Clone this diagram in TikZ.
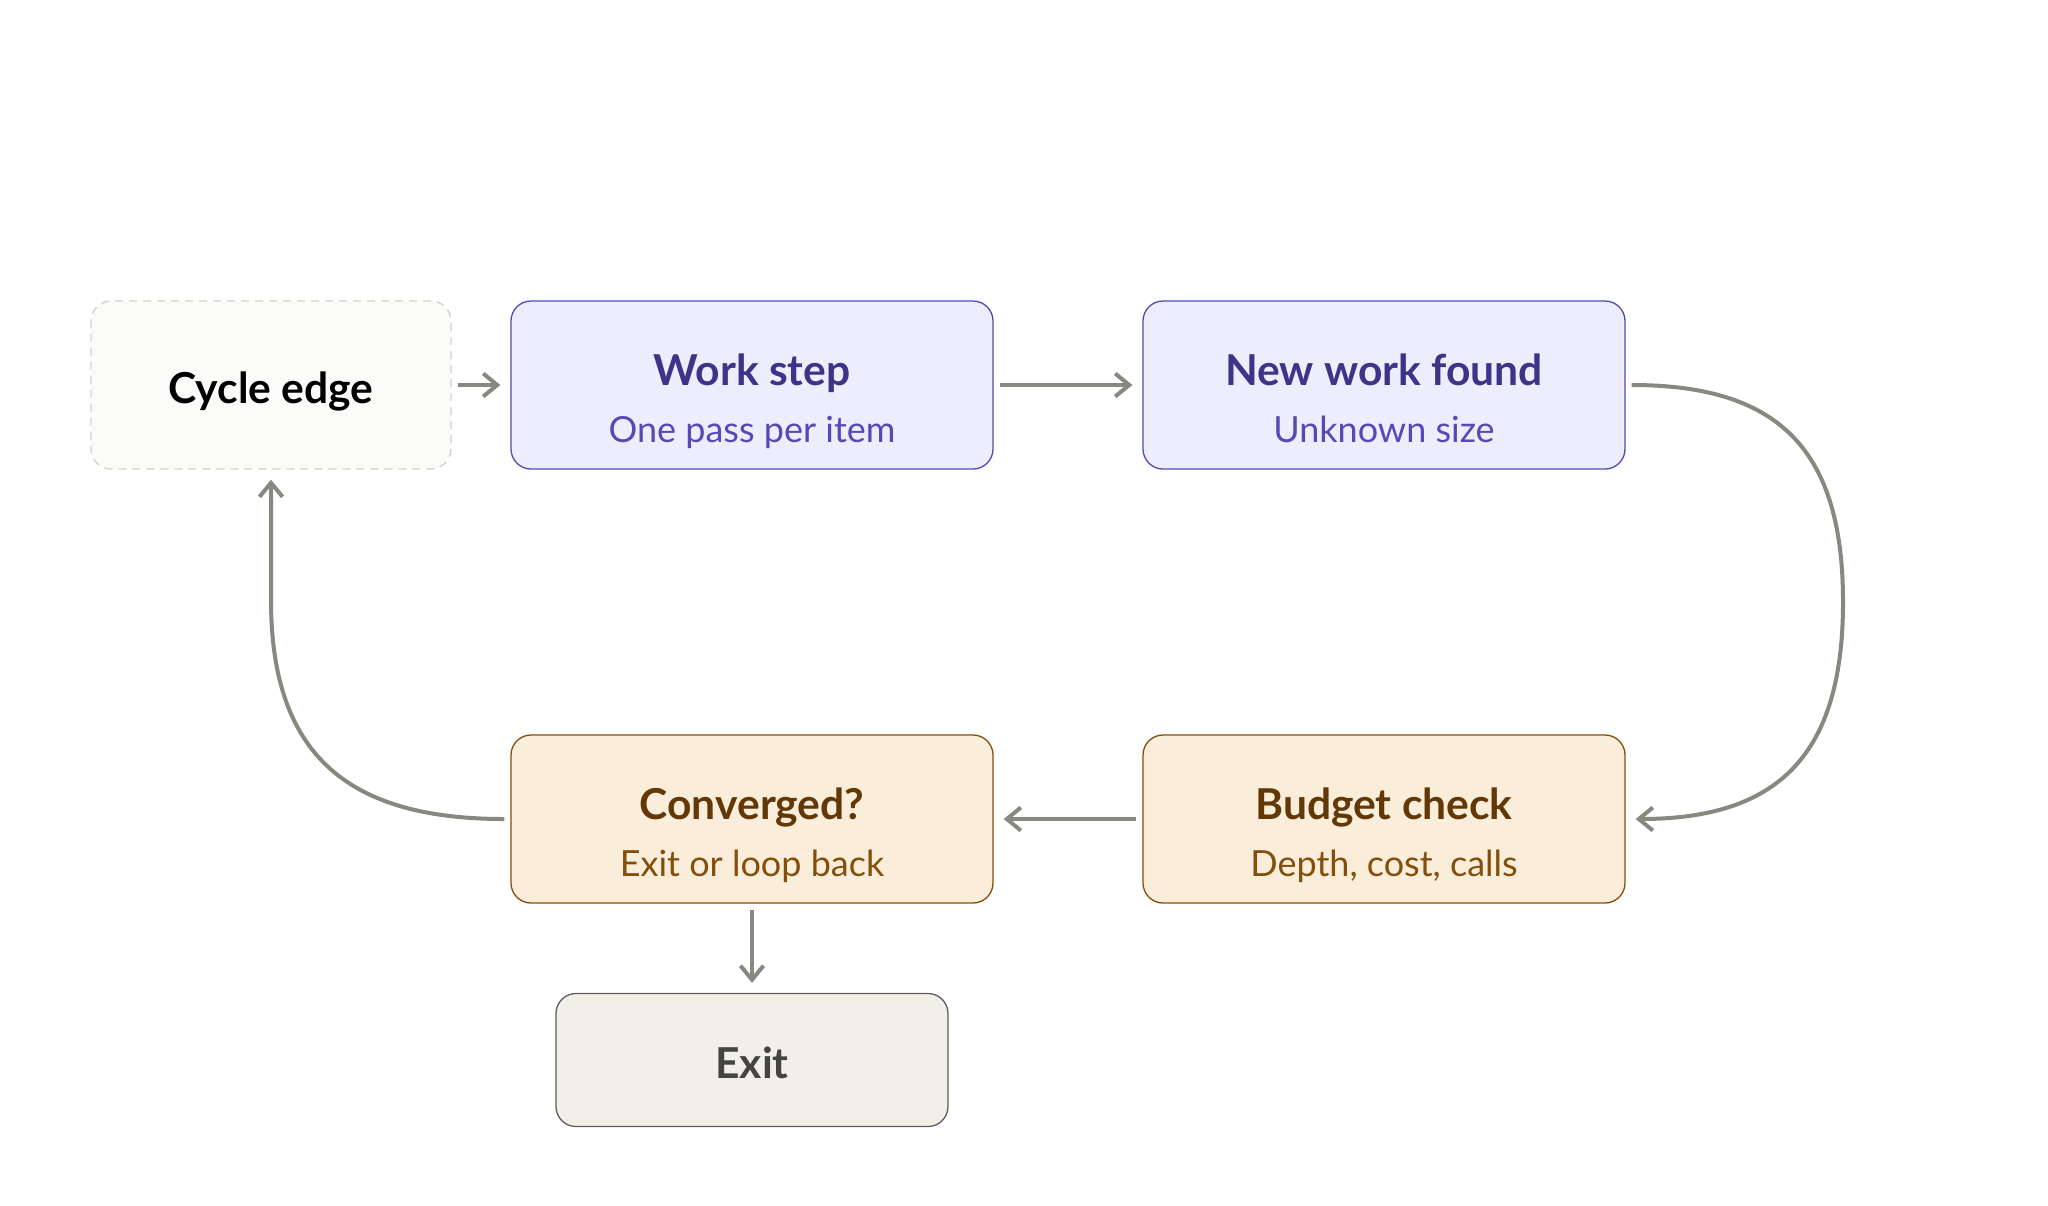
\documentclass[tikz,border=0pt]{standalone}
\usepackage{fontspec}
\setmainfont{Lato}
\usetikzlibrary{arrows.meta}

\definecolor{purpleFill}{HTML}{EEEDFE}
\definecolor{purpleEdge}{HTML}{534AB7}
\definecolor{purpleHead}{HTML}{3C3489}
\definecolor{amberFill}{HTML}{FAEEDA}
\definecolor{amberEdge}{HTML}{854F0B}
\definecolor{amberHead}{HTML}{633806}
\definecolor{grayFill}{HTML}{F1EFE8}
\definecolor{grayEdge}{HTML}{5F5E5A}
\definecolor{grayHead}{HTML}{444441}
\definecolor{cycleFill}{HTML}{FBFBF9}
\definecolor{cycleEdge}{HTML}{D3D1C7}
\definecolor{arrowGray}{HTML}{888780}

\tikzset{
    box/.style={rounded corners=10pt, line width=0.65pt, minimum width=241pt,
        minimum height=84pt, inner sep=0pt},
    purplebox/.style={box, draw=purpleEdge, fill=purpleFill},
    amberbox/.style={box, draw=amberEdge, fill=amberFill},
    exitbox/.style={box, draw=grayEdge, fill=grayFill,
        minimum width=196pt, minimum height=66.5pt},
    cyclebox/.style={box, draw=cycleEdge, fill=cycleFill, dash pattern=on 4pt off 3pt,
        minimum width=180pt},
    headtext/.style={anchor=base, font=\fontsize{21.3}{25}\selectfont\bfseries},
    subtext/.style={anchor=base, font=\fontsize{18}{21}\selectfont},
    flow/.style={draw=arrowGray, line width=2pt,
        -{Straight Barb[length=7pt,width=11.5pt]}, shorten <=3pt, shorten >=5pt},
}

\begin{document}
\begin{tikzpicture}[x=0.5pt, y=0.5pt]
    \useasboundingbox[fill=white] (0,0) rectangle (2048,-1205);

    % Top row
    \node[cyclebox] (cycle) at (271,-385) {};
    \node[headtext] (cycleT) at (271,-403) {Cycle edge};
    \node[purplebox] (work) at (752,-385) {};
    \node[headtext, text=purpleHead] (workT) at (752,-385) {Work step};
    \node[subtext, text=purpleEdge] (workS) at (752,-442) {One pass per item};
    \node[purplebox] (new) at (1384,-385) {};
    \node[headtext, text=purpleHead] (newT) at (1384,-385) {New work found};
    \node[subtext, text=purpleEdge] (newS) at (1384,-442) {Unknown size};

    % Bottom row
    \node[amberbox] (budget) at (1384,-819) {};
    \node[headtext, text=amberHead] (budgetT) at (1384,-819) {Budget check};
    \node[subtext, text=amberEdge] (budgetS) at (1384,-876) {Depth, cost, calls};
    \node[amberbox] (conv) at (752,-819) {};
    \node[headtext, text=amberHead] (convT) at (752,-819) {Converged?};
    \node[subtext, text=amberEdge] (convS) at (752,-876) {Exit or loop back};
    \node[exitbox] (exit) at (752,-1060) {};
    \node[headtext, text=grayHead] (exitT) at (752,-1078) {Exit};

    % Bends of the loop
    \coordinate (rbend) at (1843,-602);
    \coordinate (lbend) at (271,-600);

    \draw[flow] (cycle) -- (work);
    \draw[flow] (work) -- (new);
    \draw[flow] (new.east) to[out=0,in=90,looseness=1.27] (rbend)
        to[out=-90,in=0,looseness=1.27] (budget.east);
    \draw[flow] (budget) -- (conv);
    \draw[flow] (conv.west) to[out=180,in=-90,looseness=1.25] (lbend) -- (cycle.south);
    \draw[flow] (conv) -- (exit);
\end{tikzpicture}
\end{document}
